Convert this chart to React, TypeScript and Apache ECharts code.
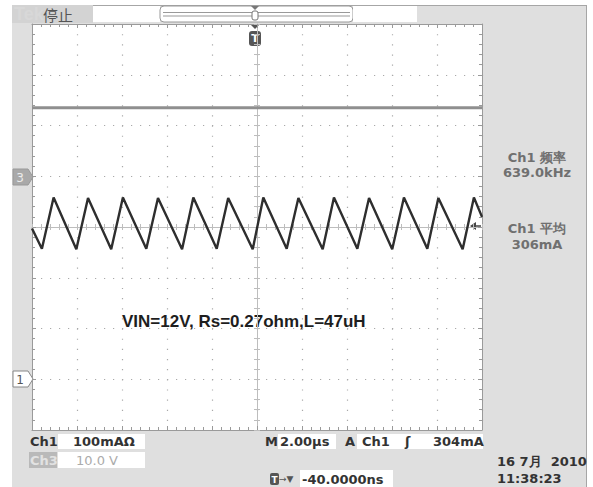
import React, { useEffect, useRef } from "react";
import * as echarts from "echarts";

// Ch1 inductor current: vertices of the triangle wave (time in µs, current in mA)
const timeUs = [-10, -9.56, -9.04, -8.03, -7.51, -6.48, -5.96, -4.92, -4.4, -3.33, -2.83, -1.79, -1.28, -0.19, 0.28, 1.32, 1.84, 2.92, 3.42, 4.46, 4.98, 6.01, 6.53, 7.57, 8.06, 9.14, 9.64, 10];
const ch1mA = [297, 257, 358, 256, 357, 256, 358, 257, 357, 256, 358, 257, 357, 256, 358, 257, 357, 256, 358, 257, 357, 256, 358, 257, 357, 256, 358, 320];

// Ch3 input voltage (flat trace), volts
const ch3Time = [-10, 10];
const ch3Volts = [13.5, 13.5];

// axis ranges (10 x 8 divisions)
const timeRange = [-10, 10];
const timePerDiv = 2;
const ch1Range = [-100, 700];
const ch1PerDiv = 100;
const ch3Range = [-50, 30];
const ch3PerDiv = 10;

// readouts
const rightReadouts = ["Ch1 频率", "639.0kHz", "Ch1 平均", "306mA"];
const annotation = "VIN=12V, Rs=0.27ohm,L=47uH";

const FRAME = "#9a9a9a";
const DOT = "#a9a9a9";
const CROSS = "#bdbdbd";
const FONT = "DejaVu Sans";

function frameX(position: string, extra: any = {}) {
  return {
    type: "value",
    min: timeRange[0],
    max: timeRange[1],
    interval: timePerDiv,
    position,
    axisLine: { show: true, onZero: false, lineStyle: { color: FRAME, width: 1 } },
    axisTick: { show: true, inside: true, length: 4, lineStyle: { color: FRAME } },
    minorTick: { show: true, splitNumber: 5, length: 3, lineStyle: { color: FRAME } },
    axisLabel: { show: false },
    splitLine: { show: false },
    ...extra,
  };
}

function frameY(min: number, max: number, interval: number, position: string, extra: any = {}) {
  return {
    type: "value",
    min,
    max,
    interval,
    position,
    axisLine: { show: true, onZero: false, lineStyle: { color: FRAME, width: 1 } },
    axisTick: { show: true, inside: true, length: 4, lineStyle: { color: FRAME } },
    minorTick: { show: true, splitNumber: 5, length: 3, lineStyle: { color: FRAME } },
    axisLabel: { show: false },
    splitLine: { show: false },
    ...extra,
  };
}

function txt(text: string, x: number, y: number, opts: any = {}) {
  return {
    type: "text",
    x,
    y,
    style: {
      text,
      fill: opts.fill || "#333",
      fontSize: opts.fontSize || 13,
      fontFamily: opts.fontFamily || FONT,
      fontWeight: opts.fontWeight || "bold",
      align: opts.align || "left",
      verticalAlign: "middle",
    },
  };
}

function box(x: number, y: number, w: number, h: number, fill = "#fff", extra: any = {}) {
  return { type: "rect", shape: { x, y, width: w, height: h, r: extra.r || 0 }, style: { fill, stroke: extra.stroke || null, lineWidth: 1 } };
}

const crossX = (inside: boolean) => ({
  offset: -203,
  axisLine: { show: inside, onZero: false, lineStyle: { color: CROSS } },
  axisTick: { show: true, inside, length: 3, lineStyle: { color: CROSS } },
  minorTick: { show: true, splitNumber: 5, length: 3, lineStyle: { color: CROSS } },
});
const crossY = (inside: boolean) => ({
  offset: -225,
  axisLine: { show: inside, onZero: false, lineStyle: { color: CROSS } },
  axisTick: { show: true, inside, length: 3, lineStyle: { color: CROSS } },
  minorTick: { show: true, splitNumber: 5, length: 3, lineStyle: { color: CROSS } },
});

export default function App() {
  const ref = useRef<HTMLDivElement>(null);

  useEffect(() => {
    if (!ref.current) return;
    const chart = echarts.init(ref.current, null, { renderer: "svg" });

    const ch1Data = timeUs.map((t, i) => [t, ch1mA[i]]);
    const ch3Data = ch3Time.map((t, i) => [t, ch3Volts[i]]);

    const graphic: any[] = [
      // top bar
      box(12, 5, 81, 18, "#d3d3d3"),
      txt("Tek", 14, 14, { fill: "#d8d8d8", fontSize: 18, fontFamily: "Liberation Sans", fontWeight: "bold" }),
      txt("停止", 43, 14, { fill: "#555", fontSize: 15, fontFamily: "Noto Sans CJK SC", fontWeight: "normal" }),
      box(93, 6, 67, 16),
      box(160, 6, 193, 16, "#fff", { stroke: "#999", r: 4 }),
      { type: "line", shape: { x1: 163, y1: 12.5, x2: 350, y2: 12.5 }, style: { stroke: "#999", lineWidth: 1 } },
      { type: "line", shape: { x1: 163, y1: 16, x2: 350, y2: 16 }, style: { stroke: "#999", lineWidth: 1 } },
      { type: "polygon", shape: { points: [[251, 6], [259, 6], [255, 10]] }, style: { fill: "#777" } },
      box(252, 11, 6, 9, "#fff", { stroke: "#777", r: 2 }),
      box(353, 6, 64, 16),
      // trigger position marker
      { type: "polygon", shape: { points: [[250, 24], [260, 24], [255, 29]] }, style: { fill: "#555" } },
      box(249, 31, 12, 15, "#555", { r: 3 }),
      txt("T", 255, 38.5, { fill: "#fff", fontSize: 11, align: "center" }),
      // channel ground markers
      { type: "polygon", shape: { points: [[13, 169], [28, 169], [33, 177], [28, 185], [13, 185]] }, style: { fill: "#a9a9a9", stroke: "#999", lineWidth: 1 } },
      txt("3", 20, 177.5, { fill: "#ececec", fontSize: 12, align: "center", fontWeight: "normal" }),
      { type: "polygon", shape: { points: [[13, 371], [28, 371], [33, 379], [28, 387], [13, 387]] }, style: { fill: "#fff", stroke: "#888", lineWidth: 1 } },
      txt("1", 20, 379.5, { fill: "#555", fontSize: 12, align: "center", fontWeight: "normal" }),
      // trigger level arrow
      { type: "polygon", shape: { points: [[470, 226], [476, 222], [476, 230]] }, style: { fill: "#444" } },
      { type: "line", shape: { x1: 475, y1: 226, x2: 481, y2: 226 }, style: { stroke: "#444", lineWidth: 1.5 } },
      // right readouts
      txt(rightReadouts[0], 537, 157, { fill: "#707070", align: "center" }),
      txt(rightReadouts[1], 537, 172, { fill: "#707070", align: "center" }),
      txt(rightReadouts[2], 537, 228, { fill: "#707070", align: "center" }),
      txt(rightReadouts[3], 537, 244, { fill: "#707070", align: "center" }),
      // annotation
      txt(annotation, 122, 321, { fill: "#1e1e1e", fontSize: 17, fontFamily: "Liberation Sans", fontWeight: "bold" }),
      // bottom bar row 1
      txt("Ch1", 30, 441.5),
      box(58, 434, 87, 15),
      txt("100mAΩ", 73, 441.5),
      txt("M", 265, 441.5),
      box(278, 434, 58, 15),
      txt("2.00µs", 280, 441.5),
      txt("A", 345, 441.5),
      box(357, 434, 126, 15),
      txt("Ch1", 362, 441.5),
      txt("ʃ", 405, 441.5),
      txt("304mA", 433, 441.5),
      // row 2
      box(29, 452, 28, 16, "#b9b9b9"),
      txt("Ch3", 30, 460, { fill: "#e2e2e2" }),
      box(58, 452, 87, 16),
      txt("10.0 V", 76, 460, { fill: "#ababab", fontWeight: "normal" }),
      txt("16 7月  2010", 497, 461),
      // row 3
      box(270, 473, 9, 12, "#555", { r: 2 }),
      txt("T", 274.5, 479.5, { fill: "#fff", fontSize: 9, align: "center" }),
      txt("→▼", 279, 479, { fill: "#555", fontSize: 9, fontWeight: "normal" }),
      box(300, 470, 93, 17),
      txt("-40.0000ns", 302, 479),
      txt("11:38:23", 497, 478),
    ];

    chart.setOption({
      animation: false,
      backgroundColor: "transparent",
      grid: { left: 32, top: 24, width: 450, height: 406, show: true, backgroundColor: "#ffffff", borderWidth: 0 },
      xAxis: [
        frameX("bottom", { splitLine: { show: true, lineStyle: { color: DOT, width: 1.2, type: [1.2, 8.95] } } }),
        frameX("top"),
        frameX("bottom", crossX(true)),
        frameX("bottom", crossX(false)),
      ],
      yAxis: [
        frameY(ch1Range[0], ch1Range[1], ch1PerDiv, "left", { splitLine: { show: true, lineStyle: { color: DOT, width: 1.2, type: [1.2, 7.8] } } }),
        frameY(ch3Range[0], ch3Range[1], ch3PerDiv, "right"),
        frameY(ch1Range[0], ch1Range[1], ch1PerDiv, "left", crossY(true)),
        frameY(ch1Range[0], ch1Range[1], ch1PerDiv, "left", crossY(false)),
      ],
      series: [
        {
          name: "Ch3",
          type: "line",
          xAxisIndex: 0,
          yAxisIndex: 1,
          data: ch3Data,
          showSymbol: false,
          lineStyle: { color: "#8f8f8f", width: 3 },
          z: 5,
        },
        {
          name: "Ch1",
          type: "line",
          xAxisIndex: 0,
          yAxisIndex: 0,
          data: ch1Data,
          showSymbol: false,
          lineStyle: { color: "#2e2e2e", width: 2.4 },
          z: 6,
        },
      ],
      graphic,
    });

    return () => chart.dispose();
  }, []);

  return (
    <div style={{ position: "fixed", left: 0, top: 0, width: 593, height: 487, background: "#ffffff", overflow: "hidden" }}>
      <div
        style={{
          position: "absolute",
          left: 12,
          top: 5,
          width: 575,
          height: 482,
          background: "#dfdfdf",
          borderTop: "1px solid #a6a6a6",
          borderRight: "1px solid #a6a6a6",
          boxSizing: "border-box",
        }}
      />
      <div ref={ref} style={{ position: "absolute", left: 0, top: 0, width: 593, height: 487 }} />
    </div>
  );
}
